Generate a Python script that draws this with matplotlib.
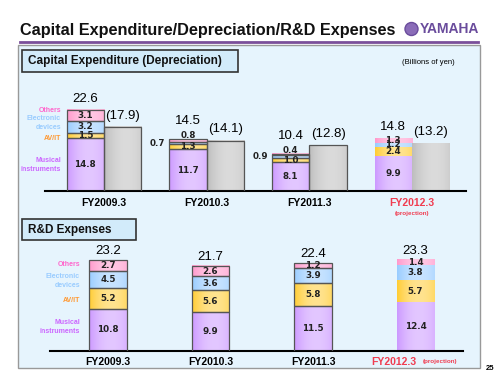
import numpy as np
import matplotlib
matplotlib.use("Agg")
import matplotlib.pyplot as plt
from matplotlib.patches import Rectangle, Ellipse
from matplotlib.lines import Line2D
from matplotlib.colors import to_rgb

plt.rcParams['font.family'] = ['Liberation Sans', 'DejaVu Sans']

# dados (bilhoes de ienes)
years = ['FY2009.3', 'FY2010.3', 'FY2011.3', 'FY2012.3']
segments = ['Musical\ninstruments', 'AV/IT', 'Electronic\ndevices', 'Others']
capex_musical = [14.8, 11.7, 8.1, 9.9]
capex_avit = [1.5, 1.3, 1.0, 2.4]
capex_elec = [3.2, 0.7, 0.9, 1.2]
capex_others = [3.1, 0.8, 0.4, 1.3]
capex_total = [22.6, 14.5, 10.4, 14.8]
depreciation = [17.9, 14.1, 12.8, 13.2]
rd_musical = [10.8, 9.9, 11.5, 12.4]
rd_avit = [5.2, 5.6, 5.8, 5.7]
rd_elec = [4.5, 3.6, 3.9, 3.8]
rd_others = [2.7, 2.6, 1.2, 1.4]
rd_total = [23.2, 21.7, 22.4, 23.3]

seg_colors = ['#CC99FF', '#FFCC33', '#99CCFF', '#FF99CC']
label_colors = ['#CC66FF', '#FF9933', '#99CCFF', '#FF66CC']
gray = '#BDBDBD'
red = '#F03C50'
W, H = 500, 375
val_font = dict(fontsize=6.3, fontweight='bold', color='#222222',
                family='DejaVu Sans', zorder=5)


def fx(x):
    return x / W


def fy(y):
    return 1 - y / H


def grad_bar(ax, x, bottom, h, w, color, edge):
    t = np.linspace(0, 1, 60)
    f = 0.45 * np.clip(1 - ((t - 0.6) / 0.6) ** 2, 0, 1)
    c = np.array(to_rgb(color))
    img = c[None, :] * (1 - f[:, None]) + f[:, None]
    ax.imshow(img[None, :, :], extent=(x - w / 2, x + w / 2, bottom, bottom + h),
              aspect='auto', zorder=2, interpolation='bilinear')
    if edge:
        ax.add_patch(Rectangle((x - w / 2, bottom), w, h, fill=False,
                               edgecolor='#555555', lw=0.9, zorder=3))


fig = plt.figure(figsize=(5, 3.75), dpi=100)

# titulo e logotipo
fig.text(fx(20), fy(30), 'Capital Expenditure/Depreciation/R&D Expenses',
         fontsize=11.7, fontweight='bold', va='center', color='#111111')
fig.add_artist(Ellipse((fx(411.5), fy(29)), fx(13), 13 / H, transform=fig.transFigure,
                       facecolor='#8A6CB8', edgecolor='#6A4C9C', lw=1))
fig.text(fx(420), fy(29), 'YAMAHA', fontsize=10, fontweight='bold',
         color='#6A4C9C', va='center')
fig.add_artist(Line2D([fx(20), fx(478)], [fy(42), fy(42)], color='#7A4F9A', lw=2))

# painel azul
fig.add_artist(Rectangle((fx(18), fy(368)), fx(462), 323 / H, transform=fig.transFigure,
                         facecolor='#E6F4FD', edgecolor='#999999', lw=1, zorder=0))
fig.text(fx(455), fy(62), '(Billions of yen)', fontsize=5.5, ha='right', va='center')
fig.text(fx(490), fy(368), '25', fontsize=5.5, fontweight='bold', ha='center', va='center')

for (x0, y0, x1, y1, txt) in [(22, 50, 238, 72, 'Capital Expenditure (Depreciation)'),
                              (22, 219, 136, 240, 'R&D Expenses')]:
    fig.add_artist(Rectangle((fx(x0), fy(y1)), fx(x1 - x0), (y1 - y0) / H,
                             transform=fig.transFigure, facecolor='#D2EBFA',
                             edgecolor='#333333', lw=1.2, zorder=1))
    fig.text(fx(x0 + 6), fy((y0 + y1) / 2), txt, fontsize=8.5, fontweight='bold',
             va='center', color='#111111')

bw = 0.365
idx = np.arange(len(years))

# grafico 1: investimento de capital
ax1 = fig.add_axes([fx(45), fy(191), fx(421), 30 * 3.58 / H])
ax1.set_xlim(-0.575, 3.526)
ax1.set_ylim(0, 30)
capex = [capex_musical, capex_avit, capex_elec, capex_others]
for i in idx:
    proj = i == len(years) - 1
    xc = i - bw / 2
    bottom = 0
    for s, vals in enumerate(capex):
        v = vals[i]
        grad_bar(ax1, xc, bottom, v, bw, seg_colors[s], not proj)
        if s == 2 and v < 1:
            ax1.text(xc - bw / 2 - 0.04, bottom + v / 2, f'{v:.1f}', ha='right',
                     va='center', **val_font)
        elif s == 3 and v < 1:
            ax1.text(xc, bottom + v - 0.3, f'{v:.1f}', ha='center', va='bottom',
                     **val_font)
        else:
            ax1.text(xc, bottom + v / 2, f'{v:.1f}', ha='center', va='center',
                     **val_font)
        bottom += v
    # total sobe um pouco quando o rotulo "Others" fica acima da barra
    off = 3.3 if capex_others[i] < 1 else 1.4
    ax1.text(xc, capex_total[i] + off, f'{capex_total[i]:.1f}', ha='center',
             va='bottom', fontsize=9.5)
    xg = i + bw / 2
    grad_bar(ax1, xg, 0, depreciation[i], bw, gray, not proj)
    ax1.text(xg, depreciation[i] + 1.5, f'({depreciation[i]:.1f})', ha='center',
             va='bottom', fontsize=9.5)
ax1.set_xticks(idx)
ax1.set_xticklabels(years, fontsize=7.5, fontweight='bold')
ax1.get_xticklabels()[-1].set_color(red)
ax1.tick_params(axis='x', length=0, pad=5)
ax1.text(3, -0.21, '(projection)', transform=ax1.get_xaxis_transform(),
         ha='center', va='center', fontsize=4.5, fontweight='bold', color=red)
ax1.set_yticks([])
for sp in ['top', 'right', 'left']:
    ax1.spines[sp].set_visible(False)
ax1.spines['bottom'].set_linewidth(1.5)
ax1.patch.set_alpha(0)

# rotulos dos segmentos (grafico 1)
for s, ty in zip(range(4), [165, 138, 123, 110]):
    fig.text(fx(61), fy(ty), segments[s], fontsize=5, fontweight='bold',
             color=label_colors[s], ha='right', va='center', linespacing=1.4)

# grafico 2: P&D
ax2 = fig.add_axes([fx(50), fy(351), fx(413), 28 * 3.92 / H])
ax2.set_xlim(-0.566, 3.463)
ax2.set_ylim(0, 28)
rd = [rd_musical, rd_avit, rd_elec, rd_others]
for i in idx:
    proj = i == len(years) - 1
    bottom = 0
    for s, vals in enumerate(rd):
        v = vals[i]
        grad_bar(ax2, i, bottom, v, bw, seg_colors[s], not proj)
        ax2.text(i, bottom + v / 2, f'{v:.1f}', ha='center', va='center', **val_font)
        bottom += v
    ax2.text(i, rd_total[i] + 0.8, f'{rd_total[i]:.1f}', ha='center',
             va='bottom', fontsize=9.5)
ax2.set_xticks(idx[:3])
ax2.set_xticklabels(years[:3], fontsize=7.5, fontweight='bold')
ax2.tick_params(axis='x', length=0, pad=4)
ax2.text(2.57, -0.1, years[3], transform=ax2.get_xaxis_transform(), ha='left',
         va='center', fontsize=7.5, fontweight='bold', color=red)
ax2.text(3.07, -0.1, '(projection)', transform=ax2.get_xaxis_transform(), ha='left',
         va='center', fontsize=4.5, fontweight='bold', color=red)
ax2.set_yticks([])
for sp in ['top', 'right', 'left']:
    ax2.spines[sp].set_visible(False)
ax2.spines['bottom'].set_linewidth(1.5)
ax2.patch.set_alpha(0)

for s, ty in zip(range(4), [327, 300, 281, 265]):
    fig.text(fx(80), fy(ty), segments[s], fontsize=5, fontweight='bold',
             color=label_colors[s], ha='right', va='center', linespacing=1.4)

fig.savefig('out.png', dpi=100)
